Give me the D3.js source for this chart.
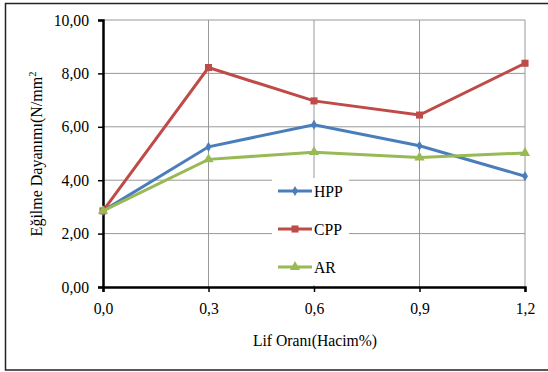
<!DOCTYPE html>
<html>
  <head>
    <meta charset="UTF-8">
    <script src="https://d3js.org/d3.v7.min.js"></script>
    <style>
      body { margin: 0; padding: 0; background: #fff; }
    </style>
  </head>
  <body>
    <div id="chart"></div>
    <script>
      const categories = ["0,0", "0,3", "0,6", "0,9", "1,2"];
      const hpp = [2.85, 5.25, 6.08, 5.29, 4.15];
      const cpp = [2.85, 8.22, 6.97, 6.44, 8.38];
      const ar  = [2.85, 4.78, 5.05, 4.85, 5.02];
      const yTicks = [0, 2, 4, 6, 8, 10];

      const serif = "'Liberation Serif', 'Times New Roman', Times, serif";
      const fs = 15.7;

      const seriesList = [
        { name: "HPP", values: hpp, color: "#4a7ebb", symbol: d3.symbolDiamond, size: 30 },
        { name: "CPP", values: cpp, color: "#be4b48", symbol: d3.symbolSquare, size: 50 },
        { name: "AR",  values: ar,  color: "#98b954", symbol: d3.symbolTriangle, size: 45 }
      ];

      const width = 548, height = 372;
      const svg = d3.select("#chart").append("svg")
        .attr("width", width).attr("height", height)
        .style("font-family", serif);

      // outer frame (right edge is cut off in the original)
      svg.append("rect")
        .attr("x", 5.5).attr("y", 3.5)
        .attr("width", 560).attr("height", 366.5)
        .attr("fill", "none").attr("stroke", "#222").attr("stroke-width", 1.5);

      const x = d3.scalePoint().domain(categories).range([103, 525]);
      const y = d3.scaleLinear().domain([0, 10]).range([287, 20]);

      // grid
      svg.append("g").selectAll("line").data(yTicks.slice(1)).enter().append("line")
        .attr("x1", 103).attr("x2", 525)
        .attr("y1", d => y(d)).attr("y2", d => y(d))
        .attr("stroke", "#999").attr("stroke-width", 1);
      svg.append("g").selectAll("line").data(categories.slice(1)).enter().append("line")
        .attr("x1", d => x(d)).attr("x2", d => x(d))
        .attr("y1", y(10)).attr("y2", y(0))
        .attr("stroke", "#999").attr("stroke-width", 1);

      // axes
      const yAxis = svg.append("g").attr("transform", "translate(103,0)")
        .call(d3.axisLeft(y).tickValues(yTicks).tickSize(5).tickPadding(9)
          .tickFormat(d => d3.format(".2f")(d).replace(".", ",")));
      yAxis.attr("font-family", null);
      yAxis.select(".domain").attr("stroke", "#000").attr("stroke-width", 2.5);
      yAxis.selectAll(".tick line").attr("stroke", "#000").attr("stroke-width", 1.5);
      yAxis.selectAll("text").style("font-family", serif).attr("font-size", fs).attr("fill", "#000");

      const xAxis = svg.append("g").attr("transform", `translate(0,${y(0)})`)
        .call(d3.axisBottom(x).tickSize(5).tickPadding(11));
      xAxis.attr("font-family", null);
      xAxis.select(".domain").attr("stroke", "#000").attr("stroke-width", 2.5);
      xAxis.selectAll(".tick line").attr("stroke", "#000").attr("stroke-width", 1.5);
      xAxis.selectAll("text").style("font-family", serif).attr("font-size", fs).attr("fill", "#000");

      // axis titles
      svg.append("text")
        .attr("x", 315).attr("y", 346)
        .attr("text-anchor", "middle").attr("font-size", fs)
        .style("font-family", serif)
        .text("Lif Oranı(Hacim%)");
      const yt = svg.append("text")
        .attr("transform", "translate(42,154) rotate(-90)")
        .attr("text-anchor", "middle").attr("font-size", 16)
        .style("font-family", serif);
      yt.append("tspan").text("Eğilme Dayanımı(N/mm");
      yt.append("tspan").attr("dy", -6).attr("font-size", 10.5).text("2");

      // lines
      const line = d3.line().x((d, i) => x(categories[i])).y(d => y(d));
      seriesList.forEach(s => {
        svg.append("path").datum(s.values)
          .attr("d", line).attr("fill", "none")
          .attr("stroke", s.color).attr("stroke-width", 3);
        svg.append("g").selectAll("path").data(s.values).enter().append("path")
          .attr("d", d3.symbol().type(s.symbol).size(s.size))
          .attr("transform", (d, i) => `translate(${x(categories[i])},${y(d)})`)
          .attr("fill", s.color);
      });

      // legend
      const legend = svg.append("g");
      legend.append("rect")
        .attr("x", 272).attr("y", 178).attr("width", 77).attr("height", 107)
        .attr("fill", "#fff");
      seriesList.forEach((s, i) => {
        const ly = 191 + i * 38;
        legend.append("line")
          .attr("x1", 278).attr("x2", 312).attr("y1", ly).attr("y2", ly)
          .attr("stroke", s.color).attr("stroke-width", 3);
        legend.append("path")
          .attr("d", d3.symbol().type(s.symbol).size(s.size))
          .attr("transform", `translate(295,${ly})`)
          .attr("fill", s.color);
        legend.append("text")
          .attr("x", 314).attr("y", ly + 5.5)
          .attr("font-size", fs).style("font-family", serif)
          .text(s.name);
      });
    </script>
  </body>
</html>
